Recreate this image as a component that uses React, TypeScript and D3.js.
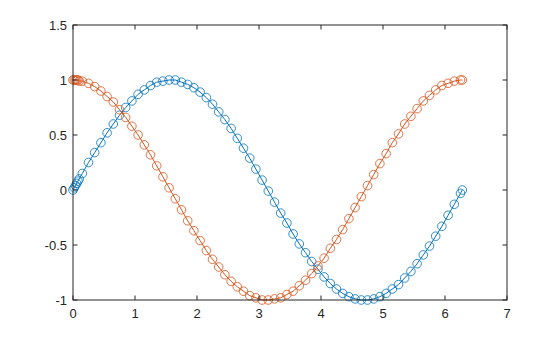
import React from "react";
import * as d3 from "d3";

const xs = [0, 0.02, 0.04, 0.06, 0.08, 0.1, 0.15, 0.25, 0.35, 0.45, 0.55, 0.65, 0.75, 0.85, 0.95, 1.05, 1.15, 1.25, 1.35, 1.45, 1.55, 1.65, 1.75, 1.85, 1.95, 2.05, 2.15, 2.25, 2.35, 2.45, 2.55, 2.65, 2.75, 2.85, 2.95, 3.05, 3.15, 3.25, 3.35, 3.45, 3.55, 3.65, 3.75, 3.85, 3.95, 4.05, 4.15, 4.25, 4.35, 4.45, 4.55, 4.65, 4.75, 4.85, 4.95, 5.05, 5.15, 5.25, 5.35, 5.45, 5.55, 5.65, 5.75, 5.85, 5.95, 6.05, 6.15, 6.25, 6.28];
const sinVals = [0, 0.02, 0.04, 0.06, 0.08, 0.1, 0.15, 0.25, 0.34, 0.43, 0.52, 0.6, 0.68, 0.75, 0.81, 0.87, 0.91, 0.95, 0.98, 0.99, 1.0, 1.0, 0.98, 0.96, 0.93, 0.89, 0.84, 0.78, 0.71, 0.64, 0.56, 0.47, 0.38, 0.29, 0.19, 0.09, -0.01, -0.11, -0.21, -0.3, -0.4, -0.49, -0.57, -0.65, -0.72, -0.79, -0.85, -0.9, -0.94, -0.97, -0.99, -1.0, -1.0, -0.99, -0.97, -0.94, -0.9, -0.86, -0.8, -0.74, -0.67, -0.59, -0.51, -0.42, -0.33, -0.23, -0.13, -0.03, 0.0];
const cosVals = [1, 1.0, 1.0, 1.0, 1.0, 0.99, 0.99, 0.97, 0.94, 0.9, 0.85, 0.8, 0.73, 0.66, 0.58, 0.5, 0.41, 0.32, 0.22, 0.12, 0.02, -0.08, -0.18, -0.28, -0.37, -0.46, -0.55, -0.63, -0.7, -0.77, -0.83, -0.88, -0.92, -0.96, -0.98, -1.0, -1.0, -0.99, -0.98, -0.95, -0.92, -0.87, -0.82, -0.76, -0.69, -0.62, -0.53, -0.45, -0.36, -0.26, -0.16, -0.06, 0.04, 0.14, 0.24, 0.33, 0.43, 0.51, 0.6, 0.67, 0.74, 0.81, 0.86, 0.91, 0.95, 0.97, 0.99, 1.0, 1.0];
const xTicks = [0, 1, 2, 3, 4, 5, 6, 7];
const yTicks = [-1, -0.5, 0, 0.5, 1, 1.5];
const seriesColors = ["#0072BD", "#D95319"];

const W = 560, H = 337;
const L = 73, R = 507, T = 25, B = 300;
const axisColor = "#262626";
const font = "'Liberation Sans', Arial, Helvetica, sans-serif";

export default function App() {
  const x = d3.scaleLinear().domain([0, 7]).range([L, R]);
  const y = d3.scaleLinear().domain([-1, 1.5]).range([B, T]);
  const series = [sinVals, cosVals];
  const line = d3.line<[number, number]>().x(d => x(d[0])).y(d => y(d[1]));
  const tl = 4.5;
  return (
    <svg width={W} height={H} style={{ position: "absolute", left: 0, top: 0, background: "#fff" }}>
      <rect x={0} y={0} width={W} height={H} fill="#fff" />
      {series.map((vals, si) => {
        const pts = xs.map((xv, i) => [xv, vals[i]] as [number, number]);
        return (
          <g key={si}>
            <path d={line(pts) || ""} fill="none" stroke={seriesColors[si]} strokeWidth={1} />
            {pts.map((p, i) => (
              <circle key={i} cx={x(p[0])} cy={y(p[1])} r={4.3} fill="none" stroke={seriesColors[si]} strokeWidth={0.8} />
            ))}
          </g>
        );
      })}
      <rect x={L} y={T} width={R - L} height={B - T} fill="none" stroke={axisColor} strokeWidth={1} />
      {xTicks.map(t => (
        <g key={"x" + t}>
          <line x1={x(t)} x2={x(t)} y1={B} y2={B - tl} stroke={axisColor} />
          <line x1={x(t)} x2={x(t)} y1={T} y2={T + tl} stroke={axisColor} />
          <text x={x(t)} y={B + 18} textAnchor="middle" fontSize={13} fontFamily={font} fill={axisColor}>{t}</text>
        </g>
      ))}
      {yTicks.map(t => (
        <g key={"y" + t}>
          <line x1={L} x2={L + tl} y1={y(t)} y2={y(t)} stroke={axisColor} />
          <line x1={R} x2={R - tl} y1={y(t)} y2={y(t)} stroke={axisColor} />
          <text x={L - 6} y={y(t) + 4.5} textAnchor="end" fontSize={13} fontFamily={font} fill={axisColor}>{t}</text>
        </g>
      ))}
    </svg>
  );
}
